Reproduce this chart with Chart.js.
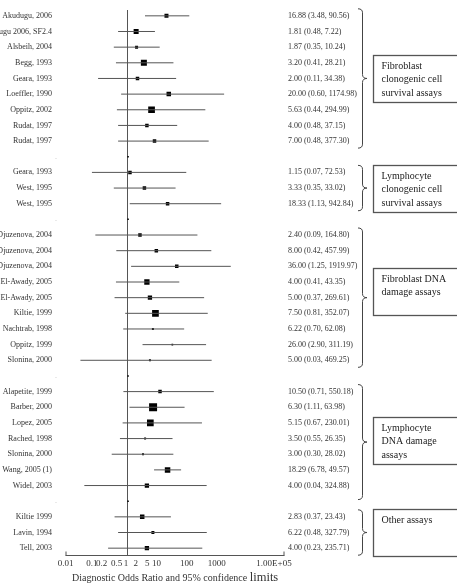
<!DOCTYPE html>
<html>
<head>
<meta charset="utf-8">
<script src="https://cdn.jsdelivr.net/npm/chart.js@4.4.0/dist/chart.umd.min.js"></script>
<style>
  body { margin: 0; background: #fff; }
</style>
</head>
<body>
<canvas id="forest" width="457" height="583"></canvas>
<script>
// rows of the forest plot, top to bottom ('.' = blank spacer row)
var studies = [
  'Akudugu, 2006', 'Akudugu 2006, SF2.4', 'Alsbeih, 2004', 'Begg, 1993', 'Geara, 1993',
  'Loeffler, 1990', 'Oppitz, 2002', 'Rudat, 1997', 'Rudat, 1997',
  '.',
  'Geara, 1993', 'West, 1995', 'West, 1995',
  '.',
  'Djuzenova, 2004', 'Djuzenova, 2004', 'Djuzenova, 2004', 'El-Awady, 2005', 'El-Awady, 2005',
  'Kiltie, 1999', 'Nachtrab, 1998', 'Oppitz, 1999', 'Slonina, 2000',
  '.',
  'Alapetite, 1999', 'Barber, 2000', 'Lopez, 2005', 'Rached, 1998', 'Slonina, 2000',
  'Wang, 2005 (1)', 'Widel, 2003',
  '.',
  'Kiltie 1999', 'Lavin, 1994', 'Tell, 2003'
];
var oddsRatios = [16.88, 1.81, 1.87, 3.20, 2.00, 20.00, 5.63, 4.00, 7.00,
  1,
  1.15, 3.33, 18.33,
  1,
  2.40, 8.00, 36.00, 4.00, 5.00, 7.50, 6.22, 26.00, 5.00,
  1,
  10.50, 6.30, 5.15, 3.50, 3.00, 18.29, 4.00,
  1,
  2.83, 6.22, 4.00];
var lowerCI = [3.48, 0.48, 0.35, 0.41, 0.11, 0.60, 0.44, 0.48, 0.48,
  null,
  0.07, 0.35, 1.13,
  null,
  0.09, 0.42, 1.25, 0.41, 0.37, 0.81, 0.70, 2.90, 0.03,
  null,
  0.71, 1.11, 0.67, 0.55, 0.30, 6.78, 0.04,
  null,
  0.37, 0.48, 0.23];
var upperCI = [90.56, 7.22, 10.24, 28.21, 34.38, 1174.98, 294.99, 37.15, 377.30,
  null,
  72.53, 33.02, 942.84,
  null,
  164.80, 457.99, 1919.97, 43.35, 269.61, 352.07, 62.08, 311.19, 469.25,
  null,
  550.18, 63.98, 230.01, 26.35, 28.02, 49.57, 324.88,
  null,
  23.43, 327.79, 235.71];
// study weight shown as square size
var weights = [4, 5, 3, 6, 3.5, 4.5, 6.7, 3.5, 3.5,
  1.5,
  3.5, 3.5, 3.5,
  1.5,
  3.5, 3.5, 3.5, 5.3, 4.3, 6.7, 2, 1.7, 2,
  1.5,
  3.5, 8, 6.7, 2, 2, 5.5, 4.3,
  1.5,
  4.5, 3, 4.3];

var xTicks = [0.01, 0.1, 0.2, 0.5, 1, 2, 5, 10, 100, 1000, 100000];
var xTickLabels = ['0.01', '0.1', '0.2', '0.5', '1', '2', '5', '10', '100', '1000', '1.00E+05'];

var groupFirst = [0, 10, 14, 24, 32];
var groupLast = [8, 12, 22, 30, 34];
var groupTitles = [
  ['Fibroblast', 'clonogenic cell', 'survival assays'],
  ['Lymphocyte', 'clonogenic cell', 'survival assays'],
  ['Fibroblast DNA', 'damage assays'],
  ['Lymphocyte', 'DNA damage', 'assays'],
  ['Other assays']
];

var SERIF = '"Liberation Serif", "Times New Roman", serif';
var boxShift = [0, 0, -6, 2, 0];
var braceExtra = [0, 0, 0, 7, 0];
// tick labels in the original sit a little left of their ticks
var tickNudge = [0, -4.8, -4.5, -2, -2, -1.8, -2.7, -2.8, -4, -5.3, -10.5];

var datasets = [];
for (var i = 0; i < studies.length; i++) {
  if (lowerCI[i] === null) continue;
  datasets.push({
    type: 'scatter',
    showLine: true,
    data: [{ x: lowerCI[i], y: i }, { x: upperCI[i], y: i }],
    borderColor: '#555',
    borderWidth: 1,
    pointRadius: 0
  });
}
datasets.push({
  type: 'scatter',
  data: oddsRatios.map(function(v, i) { return { x: v, y: i }; }),
  pointStyle: 'rect',
  pointRadius: weights.map(function(s) { return s / Math.SQRT2; }),
  backgroundColor: '#000',
  borderWidth: 0
});

function drawBrace(ctx, x0, top, bottom, xm, xt) {
  var mid = (top + bottom) / 2, r = 4;
  ctx.beginPath();
  ctx.moveTo(x0, top);
  ctx.quadraticCurveTo(xm, top, xm, top + r);
  ctx.lineTo(xm, mid - r);
  ctx.quadraticCurveTo(xm, mid, xt, mid);
  ctx.quadraticCurveTo(xm, mid, xm, mid + r);
  ctx.lineTo(xm, bottom - r);
  ctx.quadraticCurveTo(xm, bottom, x0, bottom);
  ctx.stroke();
}

var forestDecor = {
  id: 'forestDecor',
  beforeDatasetsDraw: function(chart) {
    var ctx = chart.ctx, xs = chart.scales.x, area = chart.chartArea;
    var x1 = Math.round(xs.getPixelForValue(1)) - 0.5;
    ctx.save();
    ctx.strokeStyle = '#555';
    ctx.lineWidth = 1;
    ctx.beginPath();
    ctx.moveTo(x1, area.top + 2);
    ctx.lineTo(x1, area.bottom);
    ctx.stroke();
    ctx.restore();
  },
  afterDraw: function(chart) {
    var ctx = chart.ctx, xs = chart.scales.x, ys = chart.scales.y, area = chart.chartArea;
    ctx.save();

    // x axis
    var ay = Math.round(area.bottom) - 0.5;
    ctx.strokeStyle = '#555';
    ctx.lineWidth = 1;
    ctx.beginPath();
    ctx.moveTo(area.left, ay);
    ctx.lineTo(area.right, ay);
    ctx.moveTo(area.left + 0.5, ay);
    ctx.lineTo(area.left + 0.5, ay - 4);
    ctx.moveTo(area.right - 0.5, ay);
    ctx.lineTo(area.right - 0.5, ay - 4);
    ctx.stroke();

    ctx.fillStyle = '#333';
    ctx.font = '9px ' + SERIF;
    ctx.textBaseline = 'middle';
    ctx.textAlign = 'center';
    xTicks.forEach(function(t, k) {
      ctx.fillText(xTickLabels[k], xs.getPixelForValue(t) + tickNudge[k], 564);
    });

    // axis title
    ctx.textAlign = 'left';
    ctx.textBaseline = 'alphabetic';
    ctx.font = '10px ' + SERIF;
    var t1 = 'Diagnostic Odds Ratio and 95% confidence ';
    ctx.fillText(t1, 72, 581);
    var w1 = ctx.measureText(t1).width;
    ctx.font = '12.5px ' + SERIF;
    ctx.fillText('limits', 72 + w1, 581);

    // study labels and values
    ctx.textBaseline = 'middle';
    ctx.font = '8px ' + SERIF;
    for (var i = 0; i < studies.length; i++) {
      var py = ys.getPixelForValue(i);
      if (lowerCI[i] === null) {
        ctx.fillStyle = '#bbb';
        ctx.textAlign = 'right';
        ctx.fillText(studies[i], 57, py);
        continue;
      }
      ctx.fillStyle = '#333';
      ctx.textAlign = 'right';
      ctx.fillText(studies[i], 52, py);
      ctx.textAlign = 'left';
      ctx.fillText(oddsRatios[i].toFixed(2) + ' (' + lowerCI[i].toFixed(2) + ', ' + upperCI[i].toFixed(2) + ')', 288, py);
    }

    // braces and group boxes
    var rowH = Math.abs(ys.getPixelForValue(1) - ys.getPixelForValue(0));
    for (var g = 0; g < groupFirst.length; g++) {
      var top = ys.getPixelForValue(groupFirst[g]) - rowH * 0.45;
      var bottom = ys.getPixelForValue(groupLast[g]) + rowH * 0.45 + braceExtra[g];
      ctx.strokeStyle = '#444';
      ctx.lineWidth = 1;
      drawBrace(ctx, 358, top, bottom, 362.5, 367);

      var mid = (top + bottom - braceExtra[g]) / 2 + boxShift[g];
      var bTop = Math.round(mid - 23.5) + 0.5;
      ctx.fillStyle = '#fff';
      ctx.fillRect(373.5, bTop, 100, 47);
      ctx.strokeStyle = '#555';
      ctx.lineWidth = 1.3;
      ctx.strokeRect(373.5, bTop, 100, 47);

      ctx.fillStyle = '#222';
      ctx.font = '10px ' + SERIF;
      ctx.textAlign = 'left';
      ctx.textBaseline = 'middle';
      groupTitles[g].forEach(function(line, k) {
        ctx.fillText(line, 381.5, bTop + 10.5 + k * 13.5);
      });
    }
    ctx.restore();
  }
};

new Chart(document.getElementById('forest'), {
  data: { datasets: datasets },
  options: {
    responsive: false,
    animation: false,
    layout: { padding: { left: 65.5, right: 172.5, top: 8, bottom: 27 } },
    scales: {
      x: { type: 'logarithmic', min: 0.01, max: 100000, display: false },
      y: { type: 'linear', min: -0.5, max: 34.5, reverse: true, display: false }
    },
    plugins: {
      legend: { display: false },
      tooltip: { enabled: false }
    }
  },
  plugins: [forestDecor]
});
</script>
</body>
</html>
